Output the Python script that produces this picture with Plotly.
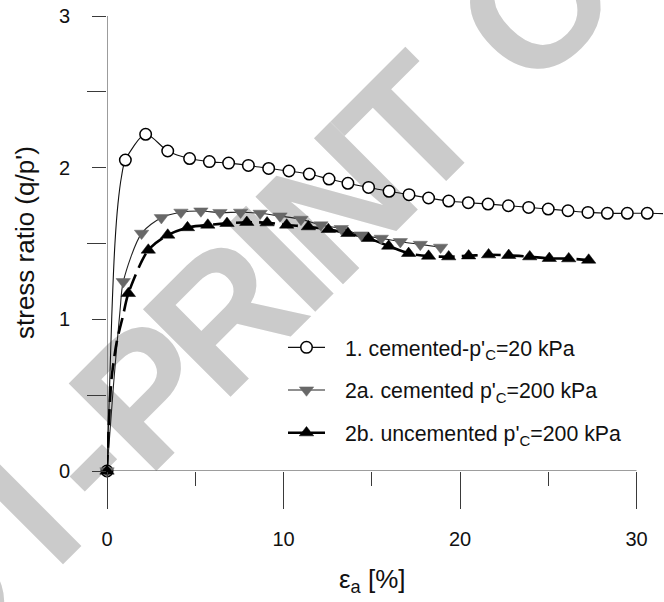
import math
import plotly.graph_objects as go

# Test 1: cemented, p'c = 20 kPa
strain_1 = [0, 1.04, 2.19, 3.44, 4.68, 5.80, 6.89, 8.01, 9.16, 10.31, 11.46, 12.58,
            13.65, 14.82, 15.98, 17.11, 18.22, 19.36, 20.47, 21.59, 22.74, 23.89,
            25.00, 26.12, 27.25, 28.35, 29.48, 30.61]
ratio_1 = [0, 2.05, 2.22, 2.11, 2.06, 2.04, 2.03, 2.015, 1.995, 1.978, 1.958, 1.925,
           1.897, 1.870, 1.844, 1.822, 1.800, 1.780, 1.769, 1.760, 1.749, 1.738,
           1.727, 1.716, 1.705, 1.699, 1.699, 1.699]

# Test 2a: cemented, p'c = 200 kPa
strain_2a = [0, 0.92, 1.96, 3.08, 4.19, 5.32, 6.40, 7.57, 8.68, 9.80, 10.99, 12.12,
             13.27, 14.41, 15.54, 16.62, 17.75, 18.90]
ratio_2a = [0, 1.248, 1.567, 1.670, 1.706, 1.714, 1.704, 1.706, 1.699, 1.681, 1.659,
            1.622, 1.598, 1.556, 1.534, 1.512, 1.494, 1.475]

# Test 2b: uncemented, p'c = 200 kPa
strain_2b = [0, 1.21, 2.34, 3.44, 4.56, 5.71, 6.80, 7.92, 9.07, 10.18, 11.41, 12.54,
             13.65, 14.82, 15.96, 17.09, 18.22, 19.36, 20.49, 21.62, 22.76, 23.95,
             25.06, 26.16, 27.29]
ratio_2b = [0, 1.171, 1.457, 1.556, 1.605, 1.622, 1.633, 1.640, 1.637, 1.622, 1.611,
            1.593, 1.567, 1.534, 1.483, 1.435, 1.417, 1.413, 1.419, 1.426, 1.422,
            1.413, 1.402, 1.400, 1.391]

# Fitted-curve points on the initial steep rise (between origin and first reading)
rise_1_x = [0.07, 0.27, 0.45, 0.62, 0.82]
rise_1_y = [0.25, 1.02, 1.50, 1.76, 1.94]
tail_1_x = [31.6]
tail_1_y = [1.697]
rise_2a_x = [0.36, 0.74]
rise_2a_y = [0.556, 1.06]
rise_2b_x = [0.10, 0.25, 0.55, 0.90]
rise_2b_y = [0.30, 0.60, 0.85, 1.02]

# legend labels (leading en/thin spaces set the gap after the symbol)
names = ["\u2002\u20091. cemented-p'<sub>C</sub>=20 kPa",
         "\u2002\u20092a. cemented p'<sub>C</sub>=200 kPa",
         "\u2002\u20092b. uncemented p'<sub>C</sub>=200 kPa"]

x_ticks = [0, 10, 20, 30]
x_minor = [5, 15, 25]
y_ticks = [0, 1, 2, 3]
y_minor = [0.5, 1.5, 2.5]

# background stamp: letters and their offsets along the slanted baseline (px)
stamp_letters = ["O", "I", "-", "P", "R", "I", "N", "T", "C", "O", "P", "Y"]
stamp_offsets = [-240, -114, -37, 53, 163, 243, 322, 428, 600, 719, 835, 941]
stamp_origin = (140.6, 462.4)
stamp_size = 180

FONT = "Arial, Liberation Sans, sans-serif"
AX = "#3a3a3a"
GREY = "#686868"

curve_1_x = [0] + rise_1_x + strain_1[1:] + tail_1_x
curve_1_y = [0] + rise_1_y + ratio_1[1:] + tail_1_y
curve_2a_x = [0] + rise_2a_x + strain_2a[1:]
curve_2a_y = [0] + rise_2a_y + ratio_2a[1:]
curve_2b_x = [0] + rise_2b_x + strain_2b[1:]
curve_2b_y = [0] + rise_2b_y + ratio_2b[1:]

line_1 = dict(color="#111111", width=1.1, shape="spline", smoothing=0.8)
line_2a = dict(color="#222222", width=1.1, shape="spline", smoothing=0.8)
line_2b = dict(color="#000000", width=2.6, shape="spline", smoothing=0.8, dash="16px,7px")

mk_1 = dict(symbol="circle", size=11.5, color="white", line=dict(color="black", width=1.5))
mk_2a = dict(symbol="triangle-down", size=12.5, color=GREY, line=dict(color=GREY, width=0.5))
mk_2b = dict(symbol="triangle-up", size=12.5, color="black", line=dict(color="black", width=0.5))

fig = go.Figure()

# fitted curves
fig.add_trace(go.Scatter(x=curve_1_x, y=curve_1_y, mode="lines", line=line_1,
                         showlegend=False, hoverinfo="skip"))
fig.add_trace(go.Scatter(x=curve_2a_x, y=curve_2a_y, mode="lines", line=line_2a,
                         showlegend=False, hoverinfo="skip"))
fig.add_trace(go.Scatter(x=curve_2b_x, y=curve_2b_y, mode="lines", line=line_2b,
                         showlegend=False, hoverinfo="skip"))

# measured points (uncemented series drawn last, on top)
fig.add_trace(go.Scatter(x=strain_1, y=ratio_1, mode="markers", marker=mk_1,
                         showlegend=False, cliponaxis=False))
fig.add_trace(go.Scatter(x=strain_2a, y=ratio_2a, mode="markers", marker=mk_2a,
                         showlegend=False, cliponaxis=False))
fig.add_trace(go.Scatter(x=strain_2b, y=ratio_2b, mode="markers", marker=mk_2b,
                         showlegend=False, cliponaxis=False))

# legend entries
for i, (nm, ln, mk) in enumerate([(names[0], line_1, mk_1),
                                   (names[1], line_2a, mk_2a),
                                   (names[2], line_2b, mk_2b)]):
    fig.add_trace(go.Scatter(x=[None], y=[None], mode="lines+markers", name=nm,
                             line={k: v for k, v in ln.items() if k not in ("shape", "smoothing")},
                             marker=mk, legendgroup=f"g{i}"))

# plot-area geometry in pixels
L, R, T, B = 107, 1, 16, 131
W, H = 664 - L - R, 602 - T - B


def px(xp, yp):
    return (xp - L) / W, (602 - B - yp) / H


shapes = []

# slanted stamp, one letter per label, laid along a 45-degree baseline
c = math.sqrt(0.5)
lift = 0.3465 * stamp_size
for ch, d in zip(stamp_letters, stamp_offsets):
    cx = stamp_origin[0] + d * c - lift * c
    cy = stamp_origin[1] - d * c - lift * c
    x0, y0 = px(cx - 2, cy + 2)
    x1, y1 = px(cx + 2, cy - 2)
    shapes.append(dict(
        type="line", xref="paper", yref="paper", x0=x0, y0=y0, x1=x1, y1=y1,
        line=dict(color="rgba(0,0,0,0)", width=0), layer="below",
        label=dict(text=ch, textangle=-45, textposition="middle",
                   xanchor="center", yanchor="middle", padding=0,
                   font=dict(family="Liberation Sans, Arial", size=stamp_size,
                             color="#cbcbcb", weight="bold"))))

# axis lines
shapes += [
    dict(type="line", xref="x", yref="y", x0=0, y0=0, x1=30, y1=0,
         line=dict(color=AX, width=1), layer="below"),
    dict(type="line", xref="x", yref="y", x0=0, y0=0, x1=0, y1=3,
         line=dict(color=AX, width=1), layer="below"),
]

tx, ty = px(372, 580)
yx, yy = px(25, 243)

fig.update_layout(
    width=664, height=602,
    margin=dict(l=L, r=R, t=T, b=B, pad=0),
    paper_bgcolor="white", plot_bgcolor="white",
    font=dict(family=FONT, size=20, color="#111111"),
    shapes=shapes,
    showlegend=True,
    legend=dict(x=px(283, 0)[0], y=px(0, 327)[1], xanchor="left", yanchor="top",
                bgcolor="rgba(0,0,0,0)", font=dict(size=21.3, family=FONT),
                traceorder="grouped", tracegroupgap=12, itemwidth=37),
    annotations=[
        dict(xref="paper", yref="paper", x=tx, y=ty, text="ε<sub>a</sub> [%]",
             showarrow=False, xanchor="center", yanchor="middle",
             font=dict(size=26, family=FONT)),
        dict(xref="paper", yref="paper", x=yx, y=yy, text="stress ratio (q/p')",
             showarrow=False, xanchor="center", yanchor="middle", textangle=-90,
             font=dict(size=26, family=FONT)),
    ],
    xaxis=dict(range=[0, (664 - L - R) / 17.65], showline=False, showgrid=False,
               zeroline=False, tickmode="array", tickvals=x_ticks,
               ticks="outside", ticklen=37, tickwidth=1, tickcolor=AX,
               ticklabelstandoff=13, automargin=False,
               minor=dict(tickmode="array", tickvals=x_minor, ticks="outside",
                          ticklen=14, tickwidth=1, tickcolor=AX, showgrid=False)),
    yaxis=dict(range=[0, 3], showline=False, showgrid=False, zeroline=False,
               tickmode="array", tickvals=y_ticks,
               ticks="outside", ticklen=14, tickwidth=1, tickcolor=AX,
               ticklabelstandoff=18, automargin=False,
               minor=dict(tickmode="array", tickvals=y_minor, ticks="outside",
                          ticklen=19, tickwidth=1, tickcolor=AX, showgrid=False)),
)

fig.write_html("out.html")
